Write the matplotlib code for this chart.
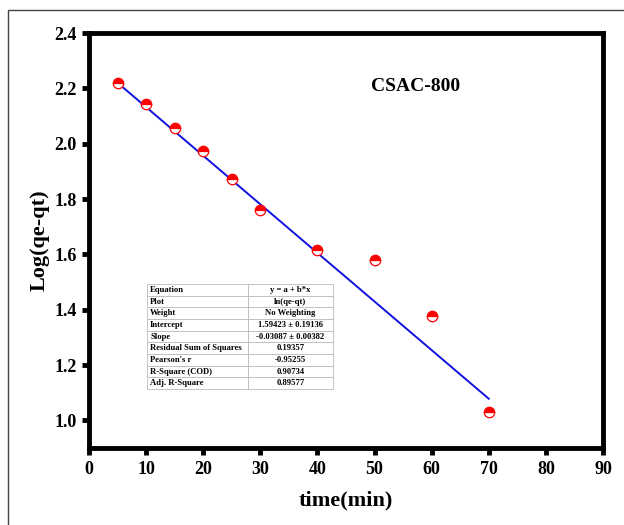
"""Pseudo-first-order kinetics plot for CSAC-800."""
import numpy as np
import matplotlib.pyplot as plt
from matplotlib.patches import Rectangle

# Messwerte
time_min = [5, 10, 15, 20, 25, 30, 40, 50, 60, 70]
log_qe_qt = [2.22, 2.142, 2.056, 1.974, 1.871, 1.760, 1.615, 1.581, 1.376, 1.030]

# Fit-Linie (Endpunkte aus dem Bild)
fit_x = [5, 70]
fit_y = [2.22, 1.078]

# Fit-Tabelle
table_keys = ["Equation", "Plot", "Weight", "Intercept", "Slope",
              "Residual Sum of Squares", "Pearson's r", "R-Square (COD)",
              "Adj. R-Square"]
table_vals = ["y = a + b*x", "ln(qe-qt)", "No Weighting", "1.59423 ± 0.19136",
              "-0.03087 ± 0.00382", "0.19357", "-0.95255", "0.90734", "0.89577"]

x_ticks = np.arange(0, 91, 10)
y_ticks = [1.0, 1.2, 1.4, 1.6, 1.8, 2.0, 2.2, 2.4]

plt.rcParams['font.family'] = ['Liberation Serif', 'DejaVu Serif']
plt.rcParams['font.weight'] = 'bold'

fig = plt.figure(figsize=(6.24, 5.25), dpi=100)
ax = fig.add_axes([89 / 624, 1 - 448 / 525, 514 / 624, 415 / 525])

# äußerer Rahmen
fig.patches.append(Rectangle((8 / 624, -0.1), 1.2, 1 - 10 / 525 + 0.1,
                             transform=fig.transFigure, fill=False,
                             edgecolor='#444444', linewidth=1.0))

ax.plot(fit_x, fit_y, color='#1010e0', linewidth=1.4, zorder=2)
ax.plot(time_min, log_qe_qt, linestyle='none', marker='o', markersize=7.5,
        fillstyle='top', markerfacecolor='red', markerfacecoloralt='white',
        markeredgecolor='red', markeredgewidth=0.9, zorder=3)

ax.set_xlim(0, 90)
ax.set_ylim(0.9, 2.4)
ax.set_xticks(x_ticks)
ax.set_yticks(y_ticks)
ax.set_yticklabels([f"{v:.1f}" for v in y_ticks])

for s in ax.spines.values():
    s.set_linewidth(3.5)
ax.tick_params(direction='out', length=5, width=3.5, labelsize=13, pad=4)
for lab in ax.get_xticklabels() + ax.get_yticklabels():
    lab.set_fontweight('bold')

ax.set_xlabel("time(min)", fontsize=16, fontweight='bold', labelpad=9)
ax.set_ylabel("Log(qe-qt)", fontsize=16, fontweight='bold', labelpad=3)

ax.text(0.635, 0.87, "CSAC-800", transform=ax.transAxes, fontsize=14,
        fontweight='bold', ha='center', va='center')

cell_text = [[k, v] for k, v in zip(table_keys, table_vals)]
tbl = ax.table(cellText=cell_text, bbox=[0.113, 0.142, 0.362, 0.253],
               colWidths=[0.54, 0.46], cellLoc='left', zorder=4)
tbl.auto_set_font_size(False)
for (r, c), cell in tbl.get_celld().items():
    cell.set_fontsize(6.2)
    cell.set_edgecolor('#bbbbbb')
    cell.set_linewidth(0.6)
    cell.set_facecolor('white')
    cell.PAD = 0.03
    txt = cell.get_text()
    txt.set_fontweight('bold')
    if c == 1:
        cell._loc = 'center'
        txt.set_ha('center')

fig.savefig("out.png", dpi=100, facecolor="white")
